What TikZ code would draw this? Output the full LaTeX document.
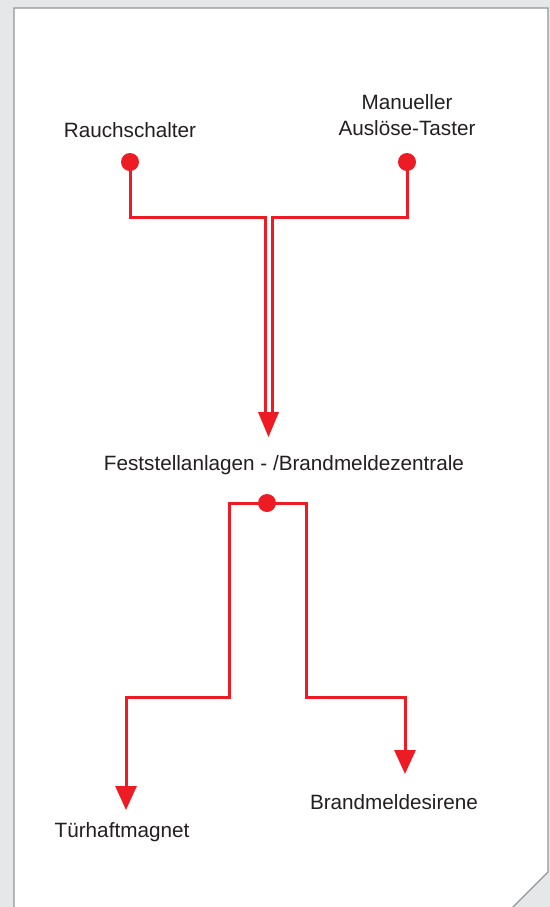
\documentclass[tikz,border=0pt]{standalone}
\usepackage{fontspec}
\setmainfont{Liberation Sans}
\usetikzlibrary{arrows.meta}
\definecolor{brandrot}{HTML}{ED1C24}
\definecolor{schrift}{HTML}{231F20}
\definecolor{hinter}{HTML}{E6E7E8}
\definecolor{rand}{HTML}{939598}
\tikzset{
  leitung/.style={draw=brandrot, line width=1.5pt},
  pfeil/.style={leitung, -{Triangle[width=10.5pt,length=12pt]}},
  punkt/.style={circle, fill=brandrot, inner sep=0pt, minimum size=9pt},
  beschriftung/.style={text=schrift, font=\fontsize{10.35}{13}\selectfont, align=center}
}
\begin{document}
\begin{tikzpicture}[x=0.5pt,y=-0.5pt]
    \useasboundingbox (0,0) rectangle (550,907);
    \fill[hinter] (0,0) rectangle (550,907);
    \filldraw[fill=white, draw=rand, line width=0.6pt] (14,912) -- (14,8) -- (548,8) -- (548,872) -- (511,909);

    % Melder oben
    \node[beschriftung] (rauch) at (130,130) {Rauchschalter};
    \node[beschriftung] (taster) at (407,115) {Manueller\\Auslöse-Taster};
    \coordinate (kl) at (265,217);
    \coordinate (kr) at (272,217);
    \coordinate (el) at (265,412);
    \coordinate (er) at (272,412);
    \coordinate (spitze) at (268.5,437);
    \draw[leitung] (130,162) |- (kl) -- (el);
    \draw[leitung] (407,162) |- (kr) -- (er);
    \fill[brandrot] ([xshift=-3.5pt]el) -- ([xshift=3.5pt]er) -- (spitze) -- cycle;
    \node[punkt] (p1) at (130,162) {};
    \node[punkt] (p2) at (407,162) {};

    % Zentrale
    \node[beschriftung] (zentrale) at (284,465) {Feststellanlagen - /Brandmeldezentrale};

    % Ausgaenge unten
    \coordinate (ul) at (229,697);
    \coordinate (zl) at (126,810);
    \coordinate (ur) at (306,697);
    \coordinate (zr) at (405,774);
    \draw[pfeil] (267,503) -| (ul) -| (zl);
    \draw[pfeil] (267,503) -| (ur) -| (zr);
    \node[punkt] (p3) at (267,503) {};

    \node[beschriftung] (tuer) at (122,832) {Türhaftmagnet};
    \node[beschriftung] (sirene) at (394,802) {Brandmeldesirene};
\end{tikzpicture}
\end{document}
